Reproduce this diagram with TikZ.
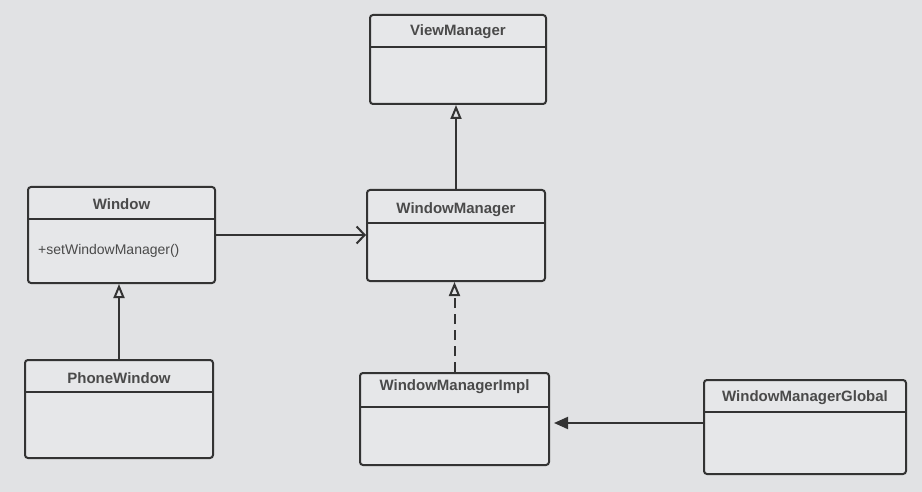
\documentclass[tikz,border=0pt]{standalone}
\usepackage{fontspec}
\setmainfont{Liberation Sans}
\usetikzlibrary{arrows.meta,calc}
\definecolor{bgc}{HTML}{E1E2E4}
\definecolor{boxc}{HTML}{E6E7E9}
\definecolor{linec}{HTML}{333333}
\definecolor{textc}{HTML}{4A4A4A}
\tikzset{
  cls/.style={draw=linec, fill=boxc, line width=2pt, rounded corners=3pt, inner sep=0pt},
  divider/.style={draw=linec, line width=2pt},
  ctitle/.style={font=\bfseries\fontsize{15}{17}\selectfont, text=textc, inner sep=0pt},
  member/.style={font=\fontsize{14}{16}\selectfont, text=textc, inner sep=0pt, anchor=west},
  conn/.style={draw=linec, line width=2pt},
  gen/.style={conn, -{Triangle[open, length=14pt, width=11pt, line width=2pt]}},
  assoc/.style={conn, -{Straight Barb[length=8pt, width=17pt, line width=2pt]}},
  dep/.style={conn, -{Triangle[length=14pt, width=12pt]}},
}
\begin{document}
\begin{tikzpicture}[x=1pt,y=-1pt]
\fill[bgc] (0,0) rectangle (922,492);
\useasboundingbox (0,0) rectangle (922,492);

% ViewManager
\node[cls, minimum width=176pt, minimum height=89pt] (vm) at (458,59.5) {};
\node[ctitle] (vmt) at ($(vm.north)+(0,18)$) {ViewManager};
\draw[divider] ($(vm.north west)+(0,33)$) -- ($(vm.north east)+(0,33)$);

% Window
\node[cls, minimum width=187pt, minimum height=96pt] (win) at (121.5,235) {};
\node[ctitle] (wint) at ($(win.north)+(0,18)$) {Window};
\draw[divider] ($(win.north west)+(0,33)$) -- ($(win.north east)+(0,33)$);
\node[member] (winm) at ($(win.north west)+(11,65)$) {+setWindowManager()};

% WindowManager
\node[cls, minimum width=178pt, minimum height=91pt] (wm) at (456,235.5) {};
\node[ctitle] (wmt) at ($(wm.north)+(0,21)$) {WindowManager};
\draw[divider] ($(wm.north west)+(0,34)$) -- ($(wm.north east)+(0,34)$);

% PhoneWindow
\node[cls, minimum width=188pt, minimum height=98pt] (pw) at (119,409) {};
\node[ctitle] (pwt) at ($(pw.north)+(0,19)$) {PhoneWindow};
\draw[divider] ($(pw.north west)+(0,33)$) -- ($(pw.north east)+(0,33)$);

% WindowManagerImpl
\node[cls, minimum width=189pt, minimum height=92pt] (impl) at (454.5,419) {};
\node[ctitle] (implt) at ($(impl.north)+(0,15)$) {WindowManagerImpl};
\draw[divider] ($(impl.north west)+(0,35)$) -- ($(impl.north east)+(0,35)$);

% WindowManagerGlobal
\node[cls, minimum width=202pt, minimum height=94pt] (glob) at (805,427) {};
\node[ctitle] (globt) at ($(glob.north)+(0,19)$) {WindowManagerGlobal};
\draw[divider] ($(glob.north west)+(0,33)$) -- ($(glob.north east)+(0,33)$);

% connectors
\draw[gen] (wm.north) -- (wm.north |- vm.south);
\draw[assoc] (win.east) -- (win.east -| wm.west);
\draw[gen] (pw.north) -- (pw.north |- win.south);
\draw[gen, dash pattern=on 10pt off 6pt] (impl.north) -- (impl.north |- wm.south);
\coordinate (gs) at ($(glob.north west)+(0,44)$);
\draw[dep, shorten >=4pt] (gs) -- (gs -| impl.east);
\end{tikzpicture}
\end{document}
